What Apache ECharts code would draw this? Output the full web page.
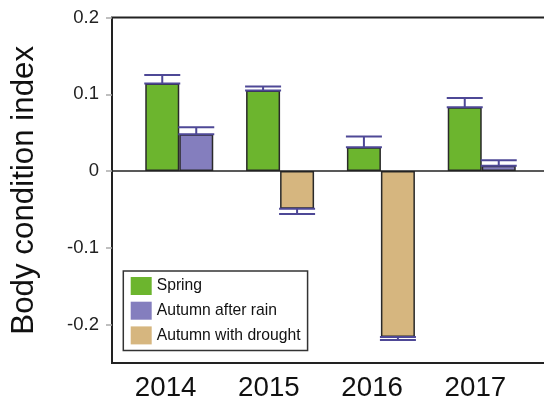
<!DOCTYPE html>
<html>
<head>
<meta charset="utf-8">
<script src="https://cdn.jsdelivr.net/npm/echarts@6/dist/echarts.min.js"></script>
<style>
  html, body { margin: 0; padding: 0; background: #fff; }
  #chart { width: 544px; height: 399px; }
</style>
</head>
<body>
<div id="chart"></div>
<script>
// Body condition index by year and season (mean ± SE)
const years = ['2014', '2015', '2016', '2017'];
const yearValues = [2014, 2015, 2016, 2017];
const spring = [0.114, 0.105, 0.031, 0.083];
const springErr = [0.011, 0.005, 0.014, 0.012];
const autumnRain = [0.048, null, null, 0.007];
const autumnRainErr = [0.009, null, null, 0.007];
const autumnDrought = [null, -0.049, -0.216, null];
const autumnDroughtErr = [null, 0.007, 0.004, null];
const yTicks = [-0.2, -0.1, 0, 0.1, 0.2];

const FONT = '"Liberation Sans", Arial, Helvetica, sans-serif';
const BAR_W = 34;
const colors = { spring: '#6cb52e', rain: '#847ebe', drought: '#d6b67f', err: '#4e4896', edge: '#2a2a2a' };

const pairs = (vals) => yearValues.map((y, i) => [y, vals[i]]);

// Error bar records: [year, value, error, slot] where slot is -1 (left bar) or 1 (right bar)
function errRows(vals, errs, slot) {
  const rows = [];
  vals.forEach((v, i) => {
    if (v != null && errs[i] != null) rows.push([yearValues[i], v, errs[i], slot]);
  });
  return rows;
}
const errData = [].concat(
  errRows(spring, springErr, -1),
  errRows(autumnRain, autumnRainErr, 1),
  errRows(autumnDrought, autumnDroughtErr, 1)
);

function renderErr(params, api) {
  const x = api.value(0), v = api.value(1), e = api.value(2), slot = api.value(3);
  const base = api.coord([x, v]);
  const tip = api.coord([x, v + (v >= 0 ? e : -e)]);
  const cx = base[0] + slot * BAR_W / 2;
  const half = BAR_W / 2 + 1;
  const style = { stroke: colors.err, lineWidth: 2 };
  return {
    type: 'group',
    children: [
      { type: 'line', shape: { x1: cx - half, y1: base[1], x2: cx + half, y2: base[1] }, style },
      { type: 'line', shape: { x1: cx, y1: base[1], x2: cx, y2: tip[1] }, style },
      { type: 'line', shape: { x1: cx - half, y1: tip[1], x2: cx + half, y2: tip[1] }, style }
    ]
  };
}

const chart = echarts.init(document.getElementById('chart'), null, { renderer: 'canvas' });

const barBase = {
  type: 'bar',
  xAxisIndex: 0,
  yAxisIndex: 0,
  barWidth: BAR_W,
  barGap: '0%',
  itemStyle: { borderColor: colors.edge, borderWidth: 1.5 },
  emphasis: { disabled: true }
};

chart.setOption({
  animation: false,
  textStyle: { fontFamily: FONT },
  grid: [
    { left: 112, width: 437, top: 17.5, bottom: 36, show: true, borderColor: '#222', borderWidth: 2,
      containLabel: false, outerBoundsMode: 'none' },
    { left: 114, width: 413, top: 17.5, bottom: 36, containLabel: false, outerBoundsMode: 'none' }
  ],
  xAxis: [
    { type: 'value', gridIndex: 0, min: 2013.333, max: 2017.667, show: false },
    {
      type: 'category', gridIndex: 1, data: years, boundaryGap: true,
      axisLine: { show: false }, axisTick: { show: false }, splitLine: { show: false },
      axisLabel: { fontSize: 27.7, color: '#111', margin: 11, fontFamily: FONT }
    }
  ],
  yAxis: [
    {
      type: 'value', gridIndex: 0, min: -0.25, max: 0.2,
      name: 'Body condition index', nameLocation: 'middle', nameRotate: 90, nameGap: 72,
      nameTextStyle: { fontSize: 31.3, color: '#111', fontFamily: FONT },
      axisLine: { show: false },
      axisTick: { show: true, inside: false, length: 6, customValues: yTicks, lineStyle: { color: '#aaa', width: 1.5 } },
      axisLabel: { customValues: yTicks, fontSize: 18.5, color: '#222', margin: 13, fontFamily: FONT,
        formatter: (v) => String(Math.round(v * 10) / 10) },
      splitLine: { show: false }
    },
    { type: 'value', gridIndex: 1, min: -0.25, max: 0.2, show: false }
  ],
  legend: {
    orient: 'vertical',
    left: 123.3,
    top: 271,
    padding: [6, 7, 6, 7.4],
    itemWidth: 21,
    itemHeight: 18,
    itemGap: 6.7,
    icon: 'rect',
    borderColor: '#333',
    borderWidth: 1.5,
    backgroundColor: '#fff',
    itemStyle: { borderWidth: 0 },
    textStyle: { fontSize: 15.7, color: '#111', padding: [0, 0, 0, 0], fontFamily: FONT },
    data: ['Spring', 'Autumn after rain', 'Autumn with drought']
  },
  series: [
    Object.assign({}, barBase, {
      name: 'Spring', data: pairs(spring), itemStyle: Object.assign({}, barBase.itemStyle, { color: colors.spring }),
      markLine: {
        silent: true, symbol: 'none', label: { show: false },
        lineStyle: { color: '#222', width: 1.5, type: 'solid' },
        data: [{ yAxis: 0 }]
      }
    }),
    Object.assign({}, barBase, {
      name: 'Autumn after rain', stack: 'autumn', data: pairs(autumnRain),
      itemStyle: Object.assign({}, barBase.itemStyle, { color: colors.rain })
    }),
    Object.assign({}, barBase, {
      name: 'Autumn with drought', stack: 'autumn', data: pairs(autumnDrought),
      itemStyle: Object.assign({}, barBase.itemStyle, { color: colors.drought })
    }),
    {
      type: 'custom', name: 'err', xAxisIndex: 0, yAxisIndex: 0, z: 3,
      renderItem: renderErr, data: errData, silent: true
    }
  ]
});
</script>
</body>
</html>
